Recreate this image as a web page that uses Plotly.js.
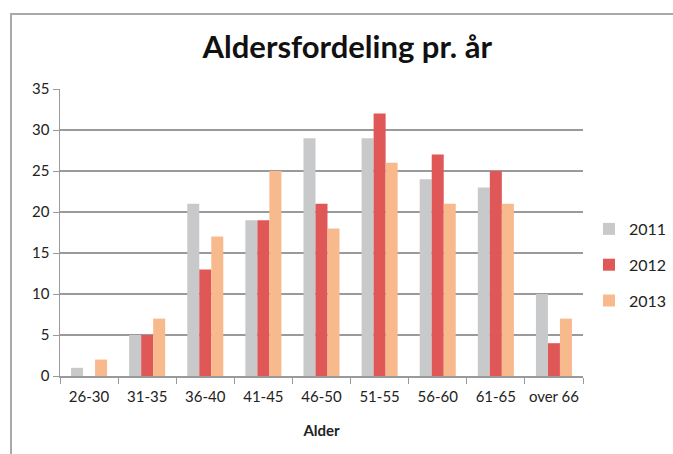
<!DOCTYPE html>
<html>
<head>
<meta charset="utf-8">
<script src="https://cdn.plot.ly/plotly-3.0.1.min.js"></script>
<style>
  html, body { margin: 0; padding: 0; background: #fff; width: 673px; height: 454px; overflow: hidden; }
  #frame { position: absolute; left: 10px; top: 13px; width: 700px; height: 500px;
           border-left: 2px solid #a9a9a9; border-top: 2px solid #a9a9a9; }
  #chart { position: absolute; left: 0; top: 0; width: 673px; height: 454px; }
</style>
</head>
<body>
<div id="frame"></div>
<div id="chart"></div>
<script>
const categories = ["26-30", "31-35", "36-40", "41-45", "46-50", "51-55", "56-60", "61-65", "over 66"];
const seriesNames = ["2011", "2012", "2013"];
const values2011 = [1, 5, 21, 19, 29, 29, 24, 23, 10];
const values2012 = [0, 5, 13, 19, 21, 32, 27, 25, 4];
const values2013 = [2, 7, 17, 25, 18, 26, 21, 21, 7];
const yTicks = [0, 5, 10, 15, 20, 25, 30, 35];
const colors = ["#c8c9cb", "#e05757", "#f8b98c"];

const allValues = [values2011, values2012, values2013];
const traces = allValues.map((v, i) => ({
  type: "bar",
  name: seriesNames[i],
  x: categories,
  y: v,
  marker: { color: colors[i] },
  legendgroup: "g" + i,
  hoverinfo: "x+y+name"
}));

const fontFam = "Lato, 'Open Sans', sans-serif";
const layout = {
  width: 673, height: 454,
  paper_bgcolor: "rgba(0,0,0,0)",
  plot_bgcolor: "rgba(0,0,0,0)",
  margin: { l: 60, r: 90, t: 89, b: 78, autoexpand: false },
  font: { family: fontFam, size: 14, color: "#222" },
  title: { text: "<b>Aldersfordeling pr. år</b>", x: 0.516, xref: "container", xanchor: "center",
           y: 1 - 47 / 454, yref: "container", yanchor: "middle",
           font: { family: fontFam, size: 31, color: "#111" } },
  barmode: "group",
  bargap: 0.38,
  bargroupgap: 0,
  xaxis: {
    type: "category",
    showline: true, linecolor: "#9a9a9a", linewidth: 1.5,
    ticks: "outside", tickson: "boundaries", ticklen: 6, tickcolor: "#9a9a9a",
    tickangle: 0, automargin: false, ticklabelstandoff: 6,
    tickfont: { size: 15, color: "#222" },
    title: { text: "<b>Alder</b>", font: { size: 15, color: "#222" }, standoff: 22 }
  },
  yaxis: {
    range: [0, 35], tickvals: yTicks, ticktext: yTicks.map(String),
    showline: true, linecolor: "#9a9a9a", linewidth: 1.5,
    ticks: "outside", ticklen: 6, tickcolor: "#9a9a9a",
    gridcolor: "#9a9a9a", gridwidth: 1.2,
    zeroline: false, automargin: false,
    tickfont: { size: 15, color: "#222" }
  },
  showlegend: true,
  legend: {
    x: 589 / 673, xref: "container", xanchor: "left",
    y: 1 - 265 / 454, yref: "container", yanchor: "middle",
    traceorder: "grouped", tracegroupgap: 12,
    font: { size: 16, color: "#222" },
    itemwidth: 30
  }
};

Plotly.newPlot("chart", traces, layout, { displayModeBar: false, staticPlot: true });
</script>
</body>
</html>
